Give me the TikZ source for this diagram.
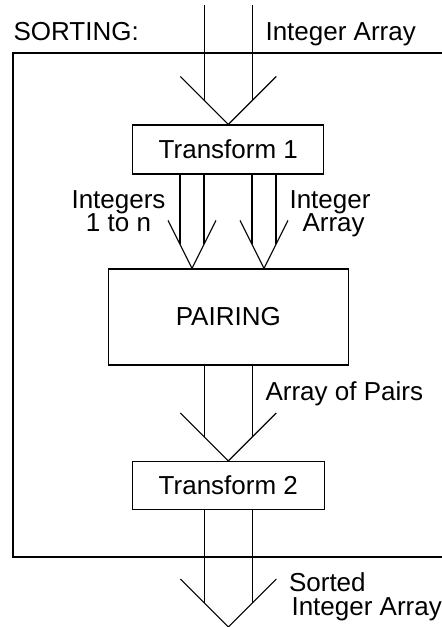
\documentclass[tikz,border=0pt]{standalone}
\usepackage{fontspec}
\setmainfont{Liberation Sans}
\usetikzlibrary{calc}

% double line pipe with an open V head: #1 source, #2 tip, #3 half gap
\newcommand{\flow}[3]{%
	\draw (#2) ++(-2*#3,-48) -- (#2) -- ++(2*#3,-48);
	\draw (#2) ++(-#3,-24) coordinate (fa) -- (fa |- #1);
	\draw (#2) ++(#3,-24) coordinate (fb) -- (fb |- #1);
}

\begin{document}
\begin{tikzpicture}[x=1pt,y=-1pt,line width=1.1pt,
	every node/.style={font=\fontsize{26}{23.4}\selectfont},
	stage/.style={draw, rectangle, inner sep=0pt}]
	
	\useasboundingbox (0,0) rectangle (442,627);
	
	% ---- Frame of the sorting unit ----
	\draw (442,53) -| (13,557) -- (442,557);
	
	% ---- Stages ----
	\node[stage, minimum width=191pt, minimum height=49pt] (t1) at (228.3,149.5) {Transform 1};
	\node[stage, minimum width=240pt, minimum height=96pt] (pair) at (228.3,317) {PAIRING};
	\node[stage, minimum width=192pt, minimum height=48pt] (t2) at (228.3,485.5) {Transform 2};
	
	% ---- Ends and tips ----
	\coordinate (in) at (228.3,5);
	\coordinate (out) at (228.3,627);
	\coordinate (pl) at ([xshift=-36.3pt]pair.north);
	\coordinate (pr) at ([xshift=35.7pt]pair.north);
	
	% ---- Pipes ----
	\foreach \src/\tip/\gap in {
		in/t1.north/24,
		t1.south/pl/12,
		t1.south/pr/12,
		pair.south/t2.north/24,
		t2.south/out/24
	}
	{
		\flow{\src}{\tip}{\gap}
	}
	
	% ---- Labels ----
	\node[anchor=base west, inner sep=0pt] (title) at (13,40) {SORTING:};
	\node[anchor=base west, inner sep=0pt] (inlabel) at (265,40) {Integer Array};
	\node[anchor=base, inner sep=0pt, align=center] (numlabel) at (118.5,231.7) {Integers\\1 to n};
	\node[anchor=base, inner sep=0pt, align=center] (arrlabel) at (330,231.7) {Integer\\\ Array};
	\node[anchor=base west, inner sep=0pt] (pairlabel) at (265,400.7) {Array of Pairs};
	\node[anchor=base west, inner sep=0pt, align=left] (outlabel) at (288.5,615) {Sorted\\\hspace*{2.5pt}Integer Array};
	
\end{tikzpicture}
\end{document}
